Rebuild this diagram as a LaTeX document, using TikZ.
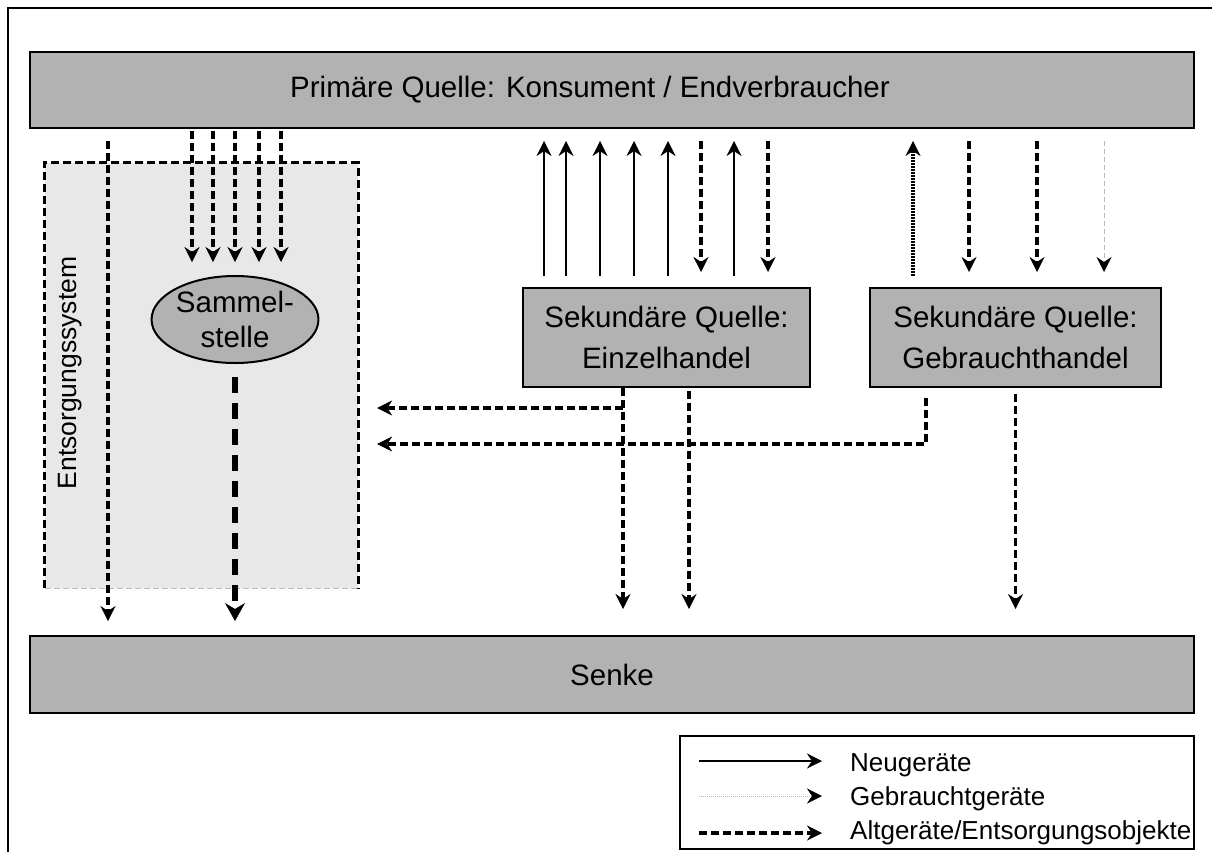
\documentclass[tikz,border=0pt]{standalone}
\usepackage{fontspec}
\setmainfont{Liberation Sans}
\usetikzlibrary{arrows.meta, shapes.geometric}

\definecolor{boxgrau}{gray}{0.70}
\definecolor{flaechegrau}{gray}{0.91}
\definecolor{hellgrau}{gray}{0.72}

\tikzset{
  >={Stealth[length=15pt, width=15pt, inset=5pt, line width=0.5pt]},
  kasten/.style={draw, line width=2pt, fill=boxgrau, inner sep=0pt, align=center,
    font=\fontsize{29.5}{41}\selectfont},
  neu/.style={->, line width=2pt},
  alt/.style={->, line width=3.5pt, dash pattern=on 8pt off 4pt},
  altdick/.style={-{Stealth[length=18pt, width=20pt, inset=6pt, line width=0.5pt]},
    line width=5.5pt, dash pattern=on 16pt off 10pt},
  gebraucht/.style={-{Stealth[length=15pt, width=15pt, inset=5pt, line width=0.5pt, black]},
    color=hellgrau, line width=1pt, dash pattern=on 5pt off 3pt},
  gebrauchtpunkt/.style={->, line width=3.5pt, dash pattern=on 2pt off 1pt},
  legtext/.style={anchor=base west, inner sep=0pt, font=\fontsize{26}{30}\selectfont}
}

\begin{document}
\begin{tikzpicture}[x=1pt, y=-1pt]
\path[use as bounding box, fill=white] (0,0) rectangle (1212,852);
\draw[line width=2pt] (8,852) -- (8,8) -- (1212,8);

% Entsorgungssystem
\node[fill=flaechegrau, inner sep=0pt, minimum width=313pt, minimum height=425pt] (entsorg) at (201.5,375.5) {};
\draw[line width=3pt, dash pattern=on 8pt off 4pt] (entsorg.south west) -- (entsorg.north west) -- (entsorg.north east) -- (entsorg.south east);
\draw[hellgrau, line width=1pt, dash pattern=on 6pt off 3pt] (entsorg.south west) -- (entsorg.south east);
\node[rotate=90, inner sep=0pt, font=\fontsize{26.5}{30}\selectfont] (entsorgtext) at (70,373) {Entsorgungssystem};

% Quellen und Senke
\node[kasten, minimum width=1164pt, minimum height=76pt] (prim) at (612,90) {Primäre Quelle: Konsument / Endverbraucher\hspace*{44pt}};
\node[kasten, minimum width=287pt, minimum height=99pt] (einzel) at (666.5,337.5) {Sekundäre Quelle:\\Einzelhandel};
\node[kasten, minimum width=291pt, minimum height=99pt] (gebr) at (1015.5,337.5) {Sekundäre Quelle:\\Gebrauchthandel};
\node[kasten, ellipse, minimum width=164pt, minimum height=87pt, font=\fontsize{29.5}{35}\selectfont] (sammel) at (235,319.5) {Sammel-\\stelle};
\node[kasten, minimum width=1164pt, minimum height=77pt] (senke) at (612,674.5) {Senke};

% Konsument -> Entsorgung
\draw[alt, shorten <=12pt, shorten >=14pt] (108,0 |- prim.south) -- (108,0 |- senke.north);
\draw[alt, shorten <=2pt, shorten >=13pt] (192,0 |- prim.south) -- (192,0 |- sammel.north);
\draw[alt, shorten <=2pt, shorten >=13pt] (213,0 |- prim.south) -- (213,0 |- sammel.north);
\draw[alt, shorten <=2pt, shorten >=13pt] (235,0 |- prim.south) -- (235,0 |- sammel.north);
\draw[alt, shorten <=2pt, shorten >=13pt] (259,0 |- prim.south) -- (259,0 |- sammel.north);
\draw[alt, shorten <=2pt, shorten >=13pt] (281,0 |- prim.south) -- (281,0 |- sammel.north);
\draw[altdick, shorten <=13pt, shorten >=14pt] (sammel.south) -- (sammel.south |- senke.north);

% Einzelhandel
\draw[neu, shorten <=11pt, shorten >=12pt] (544,0 |- einzel.north) -- (544,0 |- prim.south);
\draw[neu, shorten <=11pt, shorten >=12pt] (566,0 |- einzel.north) -- (566,0 |- prim.south);
\draw[neu, shorten <=11pt, shorten >=12pt] (600,0 |- einzel.north) -- (600,0 |- prim.south);
\draw[neu, shorten <=11pt, shorten >=12pt] (634,0 |- einzel.north) -- (634,0 |- prim.south);
\draw[neu, shorten <=11pt, shorten >=12pt] (668,0 |- einzel.north) -- (668,0 |- prim.south);
\draw[alt, shorten <=12pt, shorten >=15pt] (701,0 |- prim.south) -- (701,0 |- einzel.north);
\draw[neu, shorten <=11pt, shorten >=12pt] (734,0 |- einzel.north) -- (734,0 |- prim.south);
\draw[alt, shorten <=12pt, shorten >=15pt] (768,0 |- prim.south) -- (768,0 |- einzel.north);

% Gebrauchthandel
\draw[gebrauchtpunkt, shorten <=11pt, shorten >=12pt] (913,0 |- gebr.north) -- (913,0 |- prim.south);
\draw[alt, shorten <=12pt, shorten >=15pt] (969,0 |- prim.south) -- (969,0 |- gebr.north);
\draw[alt, shorten <=12pt, shorten >=15pt] (1037,0 |- prim.south) -- (1037,0 |- gebr.north);
\draw[gebraucht, shorten <=12pt, shorten >=15pt] (1104,0 |- prim.south) -- (1104,0 |- gebr.north);

% Handel -> Senke / Entsorgung
\coordinate (abzweig) at (623,408);
\draw[alt, shorten >=26pt] (623,0 |- einzel.south) -- (623,0 |- senke.north);
\draw[alt, shorten <=3pt, shorten >=26pt] (689,0 |- einzel.south) -- (689,0 |- senke.north);
\draw[alt, shorten >=19pt] (abzweig) -- (entsorg.east |- abzweig);
\draw[alt, shorten <=10pt, shorten >=19pt] (926,0 |- gebr.south) |- (entsorg.east |- 0,444);
\draw[alt, shorten <=6pt, shorten >=26pt] (gebr.south) -- (gebr.south |- senke.north);

% Legende
\node[draw, line width=1.5pt, inner sep=0pt, minimum width=514pt, minimum height=113pt] (legende) at (937,792.5) {};
\coordinate (leg1) at (699,761);
\coordinate (leg2) at (699,796);
\coordinate (leg3) at (699,833);
\node[legtext] (tneu) at (850,771) {Neugeräte};
\node[legtext] (tgebraucht) at (850,805) {Gebrauchtgeräte};
\node[legtext] (talt) at (850,839) {Altgeräte/Entsorgungsobjekte};
\draw[neu, shorten >=28pt] (leg1) -- (leg1 -| tneu.west);
\draw[gebraucht, dash pattern=on 1pt off 1pt, shorten >=28pt] (leg2) -- (leg2 -| tgebraucht.west);
\draw[alt, shorten >=28pt] (leg3) -- (leg3 -| talt.west);
\end{tikzpicture}
\end{document}
